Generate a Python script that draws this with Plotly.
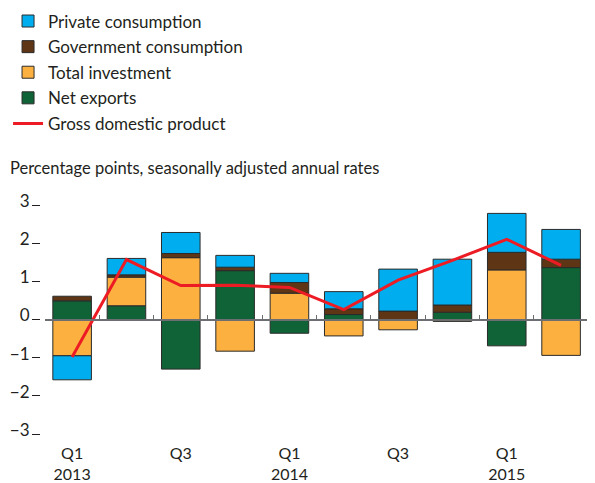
import plotly.graph_objects as go

quarters = ["2013 Q1", "2013 Q2", "2013 Q3", "2013 Q4", "2014 Q1",
            "2014 Q2", "2014 Q3", "2014 Q4", "2015 Q1", "2015 Q2"]
tick_labels = ["Q1<br>2013", "", "Q3", "", "Q1<br>2014", "", "Q3", "", "Q1<br>2015", ""]

net_exports = [0.49, 0.36, -1.30, 1.28, -0.36, 0.13, 0.0, 0.19, -0.69, 1.36]
investment = [-0.95, 0.75, 1.62, -0.83, 0.69, -0.43, -0.27, -0.05, 1.30, -0.94]
government = [0.12, 0.06, 0.11, 0.09, 0.28, 0.15, 0.22, 0.19, 0.46, 0.22]
private = [-0.63, 0.43, 0.55, 0.31, 0.24, 0.45, 1.10, 1.20, 1.02, 0.78]
gdp = [-0.98, 1.57, 0.89, 0.90, 0.84, 0.26, 1.03, 1.55, 2.10, 1.42]

FONT = "Lato"
TEXT = "#231f20"
AXIS = "#6d6e71"

# stacking order from zero outwards, legend shows it the other way round
series = [
    ("Net exports", net_exports, "#0f6337", 4),
    ("Total investment", investment, "#fbb040", 3),
    ("Government consumption", government, "#5e3515", 2),
    ("Private consumption", private, "#00aeef", 1),
]

fig = go.Figure()

for name, vals, color, rank in series:
    fig.add_trace(go.Bar(
        x=quarters,
        y=vals,
        name=name,
        marker_color=color,
        marker_line_color="#2b2b2b",
        marker_line_width=1,
        legendgroup=name,
        legendrank=rank,
    ))

# line sits on the overlay axis so it is drawn above the bars
fig.add_trace(go.Scatter(
    x=quarters,
    y=gdp,
    name="Gross domestic product",
    mode="lines",
    line=dict(color="#ed1c24", width=3),
    xaxis="x2",
    legendgroup="gdp",
    legendrank=5,
))

# page body keeps its 8px default margin, so the figure is a bit smaller than the window
fig.update_layout(
    width=587,
    height=475,
    barmode="relative",
    bargap=0.29,
    plot_bgcolor="white",
    paper_bgcolor="white",
    font=dict(family=FONT, size=17, color=TEXT),
    margin=dict(l=32, r=4, t=197, b=49, autoexpand=False),
    legend=dict(
        x=-0.058,
        y=1.88,
        xanchor="left",
        yanchor="top",
        traceorder="grouped",
        tracegroupgap=0.5,
        bgcolor="rgba(0,0,0,0)",
        font=dict(family=FONT, size=17, color=TEXT),
    ),
    xaxis=dict(
        domain=[0.009, 0.995],
        tickmode="array",
        tickvals=quarters,
        ticktext=tick_labels,
        ticks="",
        showline=False,
        showgrid=False,
        ticklabelstandoff=8,
        tickfont=dict(size=16),
    ),
    # axis line along zero with the quarter ticks pointing up
    xaxis2=dict(
        domain=[0.009, 0.995],
        overlaying="x",
        matches="x",
        anchor="free",
        position=0.5,
        showline=True,
        linecolor=AXIS,
        linewidth=1.5,
        ticks="inside",
        tickson="boundaries",
        ticklen=4,
        tickcolor=AXIS,
        showticklabels=False,
        showgrid=False,
    ),
    yaxis=dict(
        range=[-3, 3],
        dtick=1,
        anchor="free",
        position=0,
        showgrid=False,
        zeroline=False,
        showline=False,
        ticks="outside",
        ticklen=8,
        tickwidth=1,
        tickcolor=TEXT,
        ticklabelshift=-4,
        ticklabelstandoff=-1,
        tickfont=dict(size=17),
    ),
    yaxis2=dict(
        range=[-3, 3],
        dtick=1,
        overlaying="y",
        side="right",
        anchor="free",
        position=1,
        showgrid=False,
        zeroline=False,
        showline=False,
        ticks="outside",
        ticklen=4,
        tickcolor=TEXT,
        showticklabels=False,
    ),
    annotations=[dict(
        text="Percentage points, seasonally adjusted annual rates",
        xref="paper",
        yref="paper",
        x=-0.058,
        y=1.162,
        xanchor="left",
        yanchor="middle",
        showarrow=False,
        font=dict(family=FONT, size=16.5, color=TEXT),
    )],
)

fig.write_html("out.html")
